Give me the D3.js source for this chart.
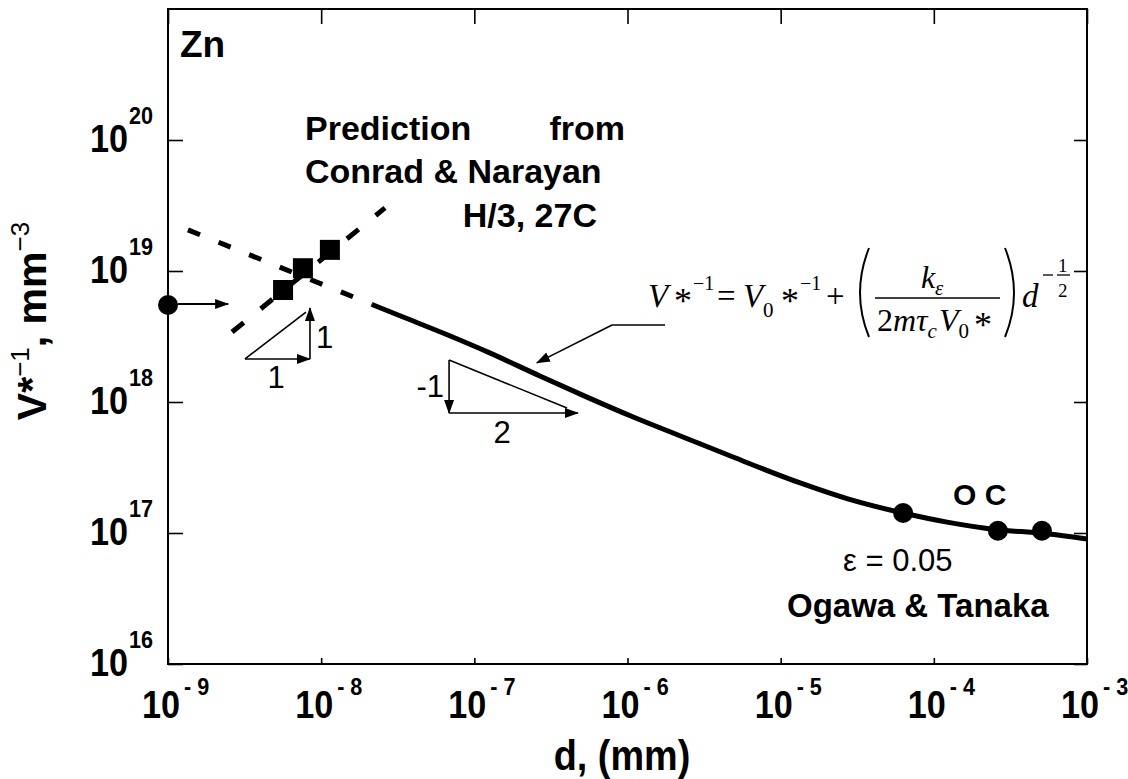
<!DOCTYPE html>
<html>
<head>
<meta charset="utf-8">
<script src="https://cdn.jsdelivr.net/npm/d3@7"></script>
<style>
	body { margin: 0; background: #fff; }
	text { font-family: 'Liberation Sans', Arial, Helvetica, sans-serif; fill: #000; }
	text.serif { font-family: 'Liberation Serif', 'Times New Roman', serif; }
</style>
</head>
<body>
<svg id="chart" width="1128" height="779"></svg>
<script>
// ---- values ----
var xTicks = [1e-9, 1e-8, 1e-7, 1e-6, 1e-5, 1e-4, 1e-3];
var xTickExp = ['-9', '-8', '-7', '-6', '-5', '-4', '-3'];
var yTicks = [1e16, 1e17, 1e18, 1e19, 1e20];
var yTickExp = ['16', '17', '18', '19', '20'];

// Conrad & Narayan prediction (squares)
var squareD = [5.64e-9, 7.6e-9, 1.14e-8];
var squareV = [7.16e18, 1.05e19, 1.45e19];

// Ogawa & Tanaka, OC (circles on the curve)
var circleD = [6.3e-5, 2.62e-4, 5.08e-4];
var circleV = [1.42e17, 1.04e17, 1.04e17];

// point on the left axis
var leftD = [1e-9];
var leftV = [5.5e18];

// fitted curve (solid)
var curveD = [2.15e-8, 3.27e-8, 6.24e-8, 1.26e-7, 2.68e-7, 5.44e-7, 1.09e-6, 2.30e-6, 4.89e-6, 1.34e-5, 2.71e-5, 6.3e-5, 1.22e-4, 2.58e-4, 5.16e-4, 1e-3];
var curveV = [5.55e18, 4.55e18, 3.36e18, 2.37e18, 1.58e18, 1.09e18, 7.68e17, 5.41e17, 3.80e17, 2.41e17, 1.83e17, 1.42e17, 1.21e17, 1.06e17, 9.95e16, 9.0e16];

// dashed extrapolations
var dashDownD = [1.35e-9, 2.15e-8];
var dashDownV = [2.06e19, 5.55e18];
var dashUpD = [2.62e-9, 2.61e-8];
var dashUpV = [3.42e18, 3.03e19];

// slope triangles: corner, horizontal end, vertical end
var tri1D = [3.18e-9, 8.45e-9, 8.45e-9, 7.96e-9];
var tri1V = [2.13e18, 2.13e18, 5.22e18, 4.86e18];
var tri2D = [6.84e-8, 6.84e-8, 4.75e-7, 4.03e-7];
var tri2V = [2.09e18, 8.24e17, 8.24e17, 9.0e17];

// leader to the curve, arrow from the left point
var leaderD = [1.76e-6, 7.93e-7, 2.56e-7];
var leaderV = [3.87e18, 3.87e18, 1.99e18];
var leftArrowD = [1.16e-9, 2.47e-9];
var leftArrowV = [5.6e18, 5.6e18];

var attrs = {
	svgWidth: 1128,
	svgHeight: 779,
	marginLeft: 168,
	marginRight: 41,
	marginTop: 9,
	marginBottom: 115,
	curveWidth: 5,
	dashWidth: 5
};

var svg = d3.select('#chart');
var calc = {};
calc.width = attrs.svgWidth - attrs.marginLeft - attrs.marginRight;
calc.height = attrs.svgHeight - attrs.marginTop - attrs.marginBottom;

var x = d3.scaleLog().domain([1e-9, 1e-3]).range([attrs.marginLeft, attrs.marginLeft + calc.width]);
var y = d3.scaleLog().domain([1e16, 1e21]).range([attrs.marginTop + calc.height, attrs.marginTop]);

var defs = svg.append('defs');
defs.append('marker')
	.attr('id', 'head')
	.attr('markerUnits', 'userSpaceOnUse')
	.attr('viewBox', '0 -6 14 12')
	.attr('refX', 13).attr('refY', 0)
	.attr('markerWidth', 14).attr('markerHeight', 12)
	.attr('orient', 'auto')
	.append('path').attr('d', 'M0,-5L14,0L0,5Z').attr('fill', '#000');

function pts(ds, vs) {
	return ds.map(function (d, i) { return [x(d), y(vs[i])]; });
}

function addText(g, px, py, str, o) {
	o = o || {};
	var t = g.append('text')
		.attr('transform', 'translate(' + px + ',' + py + ')' + (o.sx ? ' scale(' + o.sx + ',1)' : ''))
		.attr('font-size', o.size || 30)
		.attr('font-weight', o.bold ? 'bold' : 'normal')
		.attr('text-anchor', o.anchor || 'start')
		.text(str);
	if (o.serif) t.attr('class', 'serif');
	if (o.italic) t.attr('font-style', 'italic');
	return t;
}

// ---- axes: inward ticks on all four sides ----
var bottom = attrs.marginTop + calc.height;
var right = attrs.marginLeft + calc.width;

function axisG(axis, tx, ty) {
	var g = svg.append('g').attr('transform', 'translate(' + tx + ',' + ty + ')').call(axis);
	g.select('.domain').remove();
	g.selectAll('.tick line').attr('stroke', '#000').attr('stroke-width', 1.6);
	return g;
}
axisG(d3.axisBottom(x).tickValues(xTicks).tickSize(-6).tickFormat(''), 0, bottom);
axisG(d3.axisTop(x).tickValues(xTicks).tickSize(-15).tickFormat(''), 0, attrs.marginTop);
axisG(d3.axisLeft(y).tickValues(yTicks).tickSize(-15).tickFormat(''), attrs.marginLeft, 0);
axisG(d3.axisRight(y).tickValues(yTicks).tickSize(-13).tickFormat(''), right, 0);

svg.append('rect')
	.attr('x', attrs.marginLeft).attr('y', attrs.marginTop)
	.attr('width', calc.width).attr('height', calc.height)
	.attr('fill', 'none').attr('stroke', '#000').attr('stroke-width', 2);

// tick labels
var labels = svg.append('g');
xTicks.forEach(function (t, i) {
	addText(labels, x(t) + 12, 718, '10', { size: 38, bold: true, anchor: 'end', sx: 0.9 });
	addText(labels, x(t) + 16, 695, xTickExp[i].replace('-', '- '), { size: 24, bold: true, sx: 0.9 });
});
yTicks.forEach(function (t, i) {
	addText(labels, 128, y(t) + 12, '10', { size: 38, bold: true, anchor: 'end', sx: 0.9 });
	addText(labels, 129, y(t) - 16, yTickExp[i], { size: 24, bold: true, sx: 0.9 });
});

// axis titles
addText(svg, 622, 770, 'd, (mm)', { size: 42, bold: true, anchor: 'middle', sx: 0.9 });
var yl = svg.append('text')
	.attr('transform', 'translate(46,321) rotate(-90)')
	.attr('text-anchor', 'middle')
	.attr('font-size', 41)
	.attr('font-weight', 'bold');
yl.append('tspan').text('V*');
yl.append('tspan').attr('font-size', 26).attr('font-weight', 'normal').attr('dy', -17).text('\u22121');
yl.append('tspan').attr('dy', 17).text(', mm');
yl.append('tspan').attr('font-size', 26).attr('font-weight', 'normal').attr('dy', -17).text('\u22123');

// ---- data marks ----
var plot = svg.append('g');
var line = d3.line();

plot.append('path')
	.attr('d', line(pts(dashDownD, dashDownV)))
	.attr('fill', 'none').attr('stroke', '#000')
	.attr('stroke-width', attrs.dashWidth).attr('stroke-dasharray', '13,20');
plot.append('path')
	.attr('d', line(pts(dashUpD, dashUpV)))
	.attr('fill', 'none').attr('stroke', '#000')
	.attr('stroke-width', attrs.dashWidth).attr('stroke-dasharray', '15,22');

plot.append('path')
	.attr('d', d3.line().curve(d3.curveMonotoneX)(pts(curveD, curveV)))
	.attr('fill', 'none').attr('stroke', '#000')
	.attr('stroke-width', attrs.curveWidth).attr('stroke-linejoin', 'round');

plot.selectAll('.sq').data(squareD).enter().append('rect')
	.attr('class', 'sq')
	.attr('x', function (d) { return x(d) - 10; })
	.attr('y', function (d, i) { return y(squareV[i]) - 10; })
	.attr('width', 20).attr('height', 20)
	.attr('fill', '#000');

plot.selectAll('.dot').data(circleD.concat(leftD)).enter().append('circle')
	.attr('class', 'dot')
	.attr('cx', function (d) { return x(d); })
	.attr('cy', function (d, i) { return y(circleV.concat(leftV)[i]); })
	.attr('r', 10)
	.attr('fill', '#000');

// ---- annotations ----
var ann = svg.append('g').attr('fill', 'none').attr('stroke', '#000');

function arrow(p0, p1, w) {
	ann.append('line')
		.attr('x1', p0[0]).attr('y1', p0[1]).attr('x2', p1[0]).attr('y2', p1[1])
		.attr('stroke-width', w || 1.6).attr('marker-end', 'url(#head)');
}

var la = pts(leftArrowD, leftArrowV);
arrow(la[0], la[1], 2);

var t1 = pts(tri1D, tri1V);
arrow(t1[0], t1[1]);
arrow(t1[1], t1[2]);
ann.append('line').attr('x1', t1[0][0]).attr('y1', t1[0][1]).attr('x2', t1[3][0]).attr('y2', t1[3][1]).attr('stroke-width', 1.6);

var t2 = pts(tri2D, tri2V);
arrow(t2[0], t2[1]);
arrow(t2[1], t2[2]);
ann.append('line').attr('x1', t2[0][0]).attr('y1', t2[0][1]).attr('x2', t2[3][0]).attr('y2', t2[3][1]).attr('stroke-width', 1.6);

var ld = pts(leaderD, leaderV);
ann.append('line').attr('x1', ld[0][0]).attr('y1', ld[0][1]).attr('x2', ld[1][0]).attr('y2', ld[1][1]).attr('stroke-width', 1.6);
arrow(ld[1], ld[2]);

var txt = svg.append('g');
addText(txt, 276, 388, '1', { size: 31, anchor: 'middle' });
addText(txt, 316, 348, '1', { size: 31 });
addText(txt, 444, 397, '-1', { size: 31, anchor: 'end' });
addText(txt, 502, 443, '2', { size: 31, anchor: 'middle' });

addText(txt, 180, 57, 'Zn', { size: 37, bold: true });
addText(txt, 305, 140, 'Prediction', { size: 34, bold: true });
addText(txt, 625, 140, 'from', { size: 34, bold: true, anchor: 'end' });
addText(txt, 305, 183, 'Conrad & Narayan', { size: 34, bold: true });
addText(txt, 597, 227, 'H/3, 27C', { size: 34, bold: true, anchor: 'end' });

addText(txt, 953, 505, 'O C', { size: 30, bold: true });
addText(txt, 843, 571, '\u03b5 = 0.05', { size: 31 });
addText(txt, 787, 617, 'Ogawa & Tanaka', { size: 33, bold: true });

// formula  V*^-1 = V0*^-1 + (k_e / (2 m tau_c V0*)) d^(-1/2)
var fx = 648, fy = 307;
var f = svg.append('g').attr('transform', 'translate(' + fx + ',' + fy + ')');
function ft(px, py, s, size, italic) {
	return addText(f, px, py, s, { serif: true, size: size, italic: italic });
}
ft(0, 0, 'V', 33, true);
ft(26, 6, '*', 36, false);
ft(45, -17, '\u22121', 20, false);
ft(69, 0, '=', 33, false);
ft(95, 0, 'V', 33, true);
ft(115, 10, '0', 21, false);
ft(133, 6, '*', 36, false);
ft(152, -17, '\u22121', 20, false);
ft(178, 0, '+', 33, false);
f.append('path').attr('d', 'M221,-59 Q203,-14 221,30').attr('fill', 'none').attr('stroke', '#000').attr('stroke-width', 2);
f.append('path').attr('d', 'M357,-59 Q375,-14 357,30').attr('fill', 'none').attr('stroke', '#000').attr('stroke-width', 2);
ft(273, -19, 'k', 32, true);
ft(287, -12, '\u03b5', 21, true);
f.append('line').attr('x1', 227).attr('x2', 352).attr('y1', -9).attr('y2', -9).attr('stroke', '#000').attr('stroke-width', 1.5);
var den = f.append('text').attr('class', 'serif').attr('x', 229).attr('y', 24).attr('font-size', 32);
den.append('tspan').text('2');
den.append('tspan').attr('font-style', 'italic').text('m\u03c4');
den.append('tspan').attr('font-style', 'italic').attr('font-size', 21).attr('dy', 7).text('c');
den.append('tspan').attr('font-style', 'italic').attr('dy', -7).attr('dx', 2).text('V');
den.append('tspan').attr('font-size', 21).attr('dy', 7).text('0');
den.append('tspan').attr('font-size', 36).attr('dy', -1).attr('dx', 5).text('*');
ft(374, 0, 'd', 33, true);
f.append('line').attr('x1', 395).attr('x2', 405).attr('y1', -32).attr('y2', -32).attr('stroke', '#000').attr('stroke-width', 1.3);
f.append('line').attr('x1', 409).attr('x2', 422).attr('y1', -32).attr('y2', -32).attr('stroke', '#000').attr('stroke-width', 1.3);
ft(410, -35, '1', 19, false);
ft(410, -10, '2', 19, false);
</script>
</body>
</html>
